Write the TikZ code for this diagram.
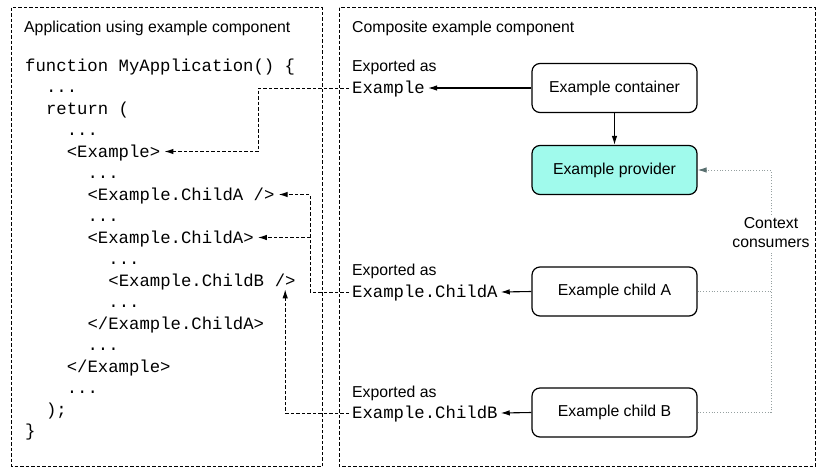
\documentclass[tikz,border=0pt]{standalone}
\usepackage{fontspec}
\setmainfont{Liberation Sans}
\setmonofont{Liberation Mono}
\usetikzlibrary{arrows.meta,calc}
\definecolor{provfill}{RGB}{160,250,236}
\definecolor{dotgray}{RGB}{150,160,160}
\definecolor{tipgray}{RGB}{90,112,112}
\tikzset{
  panel/.style={draw=black, line width=0.9pt, dash pattern=on 3.5pt off 2pt},
  sanslbl/.style={font=\fontsize{15.8}{19}\selectfont, inner sep=0pt, text height=11.3pt, text depth=0pt, anchor=west},
  code/.style={font=\ttfamily\fontsize{17.3}{20}\selectfont, inner xsep=4pt, inner ysep=3pt, text height=11.4pt, text depth=0pt, anchor=west},
  export/.style={code, inner xsep=3pt},
  box/.style={draw, rounded corners=8pt, line width=1.2pt, minimum width=165pt, minimum height=49pt, font=\fontsize{15.8}{19}\selectfont},
  solidarrow/.style={line width=1.1pt, -{Latex[length=9pt,width=5.5pt]}},
  dasharrow/.style={line width=1pt, dash pattern=on 3.5pt off 2pt, -{Latex[length=9pt,width=5.5pt]}},
  dotline/.style={dotgray, line width=1pt, dash pattern=on 1pt off 1.8pt},
}
\begin{document}
\begin{tikzpicture}[x=1pt,y=-1pt]
\useasboundingbox (0,0) rectangle (834,474);
% panels
\draw[panel] (11.5,7.5) rectangle (322,466.5);
\draw[panel] (339,7.5) rectangle (815,466.5);
\node[sanslbl] (t1) at (24,27) {Application using example component};
\node[sanslbl] (t2) at (352,27) {Composite example component};
% code
\node[code] (l0) at (21,65.5) {function MyApplication() \{};
\node[code] (l1) at (41.8,87) {...};
\node[code] (l2) at (41.8,108.5) {return (};
\node[code] (l3) at (62.6,130) {...};
\node[code] (l4) at (62.6,151.5) {<Example>};
\node[code] (l5) at (83.4,173) {...};
\node[code] (l6) at (83.4,194.5) {<Example.ChildA />};
\node[code] (l7) at (83.4,216) {...};
\node[code] (l8) at (83.4,237.5) {<Example.ChildA>};
\node[code] (l9) at (104.2,259) {...};
\node[code] (l10) at (104.2,280.5) {<Example.ChildB};
\node[code] (l10b) at (270.6,280.5) {/>};
\node[code] (l11) at (104.2,302) {...};
\node[code] (l12) at (83.4,323.5) {</Example.ChildA>};
\node[code] (l13) at (83.4,345) {...};
\node[code] (l14) at (62.6,366.5) {</Example>};
\node[code] (l15) at (62.6,388) {...};
\node[code] (l16) at (41.8,409.5) {);};
\node[code] (l17) at (21,431) {\}};
% right side
\node[sanslbl] (e0) at (352,66) {Exported as};
\node[export] (ex0) at (349,88) {Example};
\node[sanslbl] (eA) at (352,270) {Exported as};
\node[export] (exA) at (349,292) {Example.ChildA};
\node[sanslbl] (eB) at (352,392) {Exported as};
\node[export] (exB) at (349,413) {Example.ChildB};
\node[box] (cont) at (614.5,88) {Example container};
\node[box, fill=provfill] (prov) at (614.5,170) {Example provider};
\node[box] (chA) at (614.5,291.5) {Example child A};
\node[box] (chB) at (614.5,412.5) {Example child B};
\node[font=\fontsize{15.8}{19}\selectfont, align=center, inner sep=3pt] (cc) at (771,233) {Context\\consumers};
\draw[solidarrow] (cont.west) -- (ex0.east);
\draw[solidarrow] (cont.south) -- (prov.north);
\draw[solidarrow] (chA.west) -- (exA.east);
\draw[solidarrow] (chB.west) -- (exB.east);
% context consumers
\draw[dotline] (chB.east) -| (cc.south);
\draw[dotline] (chA.east) -- (chA.east -| cc.south);
\draw[dotline, -{Latex[length=9pt,width=5.5pt,color=tipgray]}] (cc.north) |- (prov.east);
% dashed connectors
\coordinate (j0) at (258,88);
\coordinate (jA) at (310,292);
\draw[dasharrow] (ex0.west) -- (j0) |- (l4.east);
\draw[dasharrow] (exA.west) -- (jA) |- (l6.east);
\draw[dasharrow] (jA |- l8.east) -- (l8.east);
\draw[dasharrow] (exB.west) -| (l10b.south);
\end{tikzpicture}
\end{document}
